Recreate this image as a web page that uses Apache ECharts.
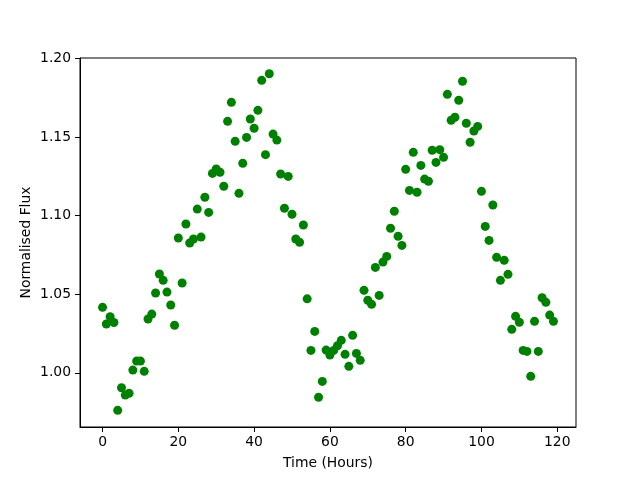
<!DOCTYPE html>
<html>
<head>
<meta charset="utf-8">
<script src="https://cdn.jsdelivr.net/npm/echarts@6/dist/echarts.min.js"></script>
<style>
  html, body { margin: 0; padding: 0; background: #fff; }
  #chart { width: 640px; height: 480px; }
</style>
</head>
<body>
<div id="chart"></div>
<script>
// hours since start of observation
var hours = [
  0, 1, 2, 3, 4, 5, 6, 7, 8, 9, 10, 11, 12, 13, 14, 15, 16, 17, 18, 19,
  20, 21, 22, 23, 24, 25, 26, 27, 28, 29, 30, 31, 32, 33, 34, 35, 36, 37, 38, 39,
  40, 41, 42, 43, 44, 45, 46, 47, 48, 49, 50, 51, 52, 53, 54, 55, 56, 57, 58, 59,
  60, 61, 62, 63, 64, 65, 66, 67, 68, 69, 70, 71, 72, 73, 74, 75, 76, 77, 78, 79,
  80, 81, 82, 83, 84, 85, 86, 87, 88, 89, 90, 91, 92, 93, 94, 95, 96, 97, 98, 99,
  100, 101, 102, 103, 104, 105, 106, 107, 108, 109, 110, 111, 112, 113, 114, 115, 116, 117, 118, 119
];
// normalised flux
var flux = [
  1.0416, 1.0310, 1.0356, 1.0320, 0.9761, 0.9905, 0.9858, 0.9869, 1.0017, 1.0074,
  1.0074, 1.0009, 1.0342, 1.0373, 1.0507, 1.0628, 1.0588, 1.0513, 1.0431, 1.0302,
  1.0857, 1.0571, 1.0946, 1.0825, 1.0851, 1.1041, 1.0863, 1.1116, 1.1020, 1.1268,
  1.1296, 1.1275, 1.1186, 1.1599, 1.1720, 1.1472, 1.1141, 1.1332, 1.1497, 1.1614,
  1.1555, 1.1669, 1.1860, 1.1387, 1.1902, 1.1518, 1.1480, 1.1264, 1.1046, 1.1249,
  1.1008, 1.0851, 1.0830, 1.0940, 1.0470, 1.0142, 1.0263, 0.9844, 0.9945, 1.0144,
  1.0113, 1.0142, 1.0172, 1.0206, 1.0117, 1.0041, 1.0238, 1.0123, 1.0079, 1.0524,
  1.0461, 1.0435, 1.0670, 1.0492, 1.0704, 1.0740, 1.0919, 1.1027, 1.0868, 1.0810,
  1.1294, 1.1160, 1.1402, 1.1148, 1.1319, 1.1232, 1.1218, 1.1415, 1.1338, 1.1419,
  1.1370, 1.1771, 1.1606, 1.1625, 1.1733, 1.1854, 1.1587, 1.1466, 1.1538, 1.1567,
  1.1154, 1.0931, 1.0842, 1.1067, 1.0734, 1.0588, 1.0715, 1.0626, 1.0276, 1.0359,
  1.0321, 1.0142, 1.0136, 0.9977, 1.0327, 1.0136, 1.0477, 1.0448, 1.0367, 1.0327
];
var xTicks = [0, 20, 40, 60, 80, 100, 120];
var yTicks = [1.00, 1.05, 1.10, 1.15, 1.20];

var points = [];
for (var i = 0; i < hours.length; i++) {
  points.push([hours[i], flux[i]]);
}

var chart = echarts.init(document.getElementById('chart'));
var font = 'DejaVu Sans';

chart.setOption({
  backgroundColor: '#fff',
  animation: false,
  grid: {
    left: 80, right: 64, top: 58, bottom: 53,
    show: true,
    borderColor: '#000',
    borderWidth: 1,
    backgroundColor: 'transparent'
  },
  xAxis: {
    type: 'value',
    min: -5.95,
    max: 124.95,
    name: 'Time (Hours)',
    nameLocation: 'middle',
    nameGap: 29,
    nameMoveOverlap: false,
    nameTextStyle: { fontFamily: font, fontSize: 13.9, color: '#000' },
    axisLine: { show: true, onZero: false, lineStyle: { color: '#000', width: 1 } },
    axisTick: { show: true, length: 5, customValues: xTicks, lineStyle: { color: '#000' } },
    axisLabel: {
      customValues: xTicks,
      margin: 8,
      fontFamily: font, fontSize: 13.9, color: '#000'
    },
    splitLine: { show: false }
  },
  yAxis: {
    type: 'value',
    min: 0.9655,
    max: 1.2002,
    name: 'Normalised Flux',
    nameLocation: 'middle',
    nameGap: 47,
    nameMoveOverlap: false,
    nameTextStyle: { fontFamily: font, fontSize: 13.9, color: '#000' },
    axisLine: { show: true, onZero: false, lineStyle: { color: '#000', width: 1 } },
    axisTick: { show: true, length: 5, customValues: yTicks, lineStyle: { color: '#000' } },
    axisLabel: {
      customValues: yTicks,
      margin: 9,
      fontFamily: font, fontSize: 13.9, color: '#000',
      formatter: function (v) { return v.toFixed(2); }
    },
    splitLine: { show: false }
  },
  series: [{
    type: 'scatter',
    data: points,
    symbol: 'circle',
    symbolSize: 9,
    itemStyle: { color: '#008000', opacity: 1 }
  }]
});
</script>
</body>
</html>
